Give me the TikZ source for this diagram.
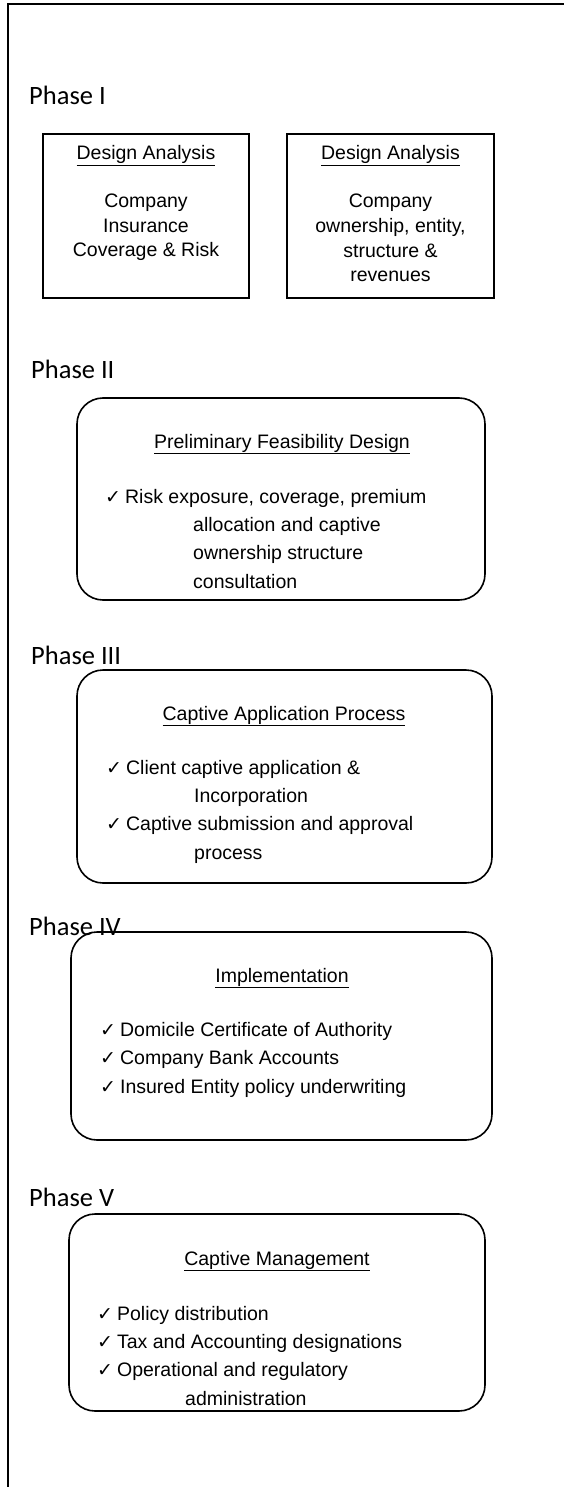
\documentclass[tikz,border=0pt]{standalone}
\usepackage{fontspec}
\setmainfont{Liberation Sans}
\newfontfamily\phasefont{Carlito}
\newfontfamily\tickfont{DejaVu Sans}
\usetikzlibrary{positioning}
\newcommand{\donemark}{{\tickfont\fontsize{19}{19}\selectfont ✓}\hspace{4pt}}
\newcommand{\wrapin}{\hspace*{88pt}}

\tikzset{
  phaselabel/.style={anchor=base west, inner sep=0pt, font=\phasefont\fontsize{26.5}{30}\selectfont},
  squarebox/.style={draw, line width=1.6pt, minimum width=206pt, minimum height=164pt, inner sep=0pt},
  roundbox/.style={draw, line width=1.6pt, rounded corners=26pt, inner sep=0pt},
  boxtitle/.style={anchor=base, inner sep=0pt, font=\fontsize{19.5}{24}\selectfont},
  centerbody/.style={anchor=base, inner sep=0pt, align=center, font=\fontsize{19.5}{24.7}\selectfont},
  itembody/.style={anchor=base west, inner sep=0pt, align=left, font=\fontsize{19.5}{28.3}\selectfont}
}

\begin{document}
\begin{tikzpicture}[x=1pt, y=-1pt]
    \useasboundingbox (0,0) rectangle (564,1487);
    % frame, open on the right and at the bottom
    \coordinate (frametr) at (564,4);
    \coordinate (frametl) at (8,4);
    \coordinate (framebl) at (8,1487);
    \draw[line width=2pt] (frametr) -- (frametl) -- (framebl);

    % Phase I
    \node[phaselabel] (ph1) at (29,105) {Phase I};
    \node[squarebox] (risk) at (146,216) {};
    \node[squarebox, minimum width=207pt] (owner) at (390.5,216) {};
    \node[boxtitle] (risktitle) at (146,160) {\underline{Design Analysis}};
    \node[boxtitle] (ownertitle) at (390.5,160) {\underline{Design Analysis}};
    % multi-line texts sit on the baseline of their last line
    \node[centerbody] (risktext) at (146,257) {Company\\ Insurance\\ Coverage \& Risk};
    \node[centerbody] (ownertext) at (390.5,282) {Company\\ ownership, entity,\\ structure \&\\ revenues};

    % Phase II
    \node[phaselabel] (ph2) at (31,378) {Phase II};
    \node[roundbox, minimum width=408pt, minimum height=202pt] (prelim) at (281,499) {};
    \node[boxtitle] (prelimtitle) at (282,448) {\underline{Preliminary Feasibility Design}};
    \node[itembody] (prelimtext) at (105,588) {\donemark Risk exposure, coverage, premium\\
        \wrapin allocation and captive\\ \wrapin ownership structure\\ \wrapin consultation};

    % Phase III
    \node[phaselabel] (ph3) at (31,664) {Phase III};
    \node[roundbox, minimum width=415pt, minimum height=213pt] (capapp) at (284.5,776.5) {};
    \node[boxtitle] (capapptitle) at (284,720) {\underline{Captive Application Process}};
    \node[itembody] (capapptext) at (106,859) {\donemark Client captive application \&\\
        \wrapin Incorporation\\ \donemark Captive submission and approval\\ \wrapin process};

    % Phase IV (box line runs over the label)
    \node[phaselabel] (ph4) at (29,935) {Phase IV};
    \node[roundbox, minimum width=421pt, minimum height=208pt] (impl) at (281.5,1036) {};
    \node[boxtitle] (impltitle) at (282,982) {\underline{Implementation}};
    \node[itembody] (impltext) at (100,1093) {\donemark Domicile Certificate of Authority\\
        \donemark Company Bank Accounts\\ \donemark Insured Entity policy underwriting};

    % Phase V
    \node[phaselabel] (ph5) at (29,1206) {Phase V};
    \node[roundbox, minimum width=416pt, minimum height=197pt] (mgmt) at (277,1312.5) {};
    \node[boxtitle] (mgmttitle) at (277,1265) {\underline{Captive Management}};
    \node[itembody] (mgmttext) at (97,1405) {\donemark Policy distribution\\
        \donemark Tax and Accounting designations\\ \donemark Operational and regulatory\\
        \wrapin administration};
\end{tikzpicture}
\end{document}
